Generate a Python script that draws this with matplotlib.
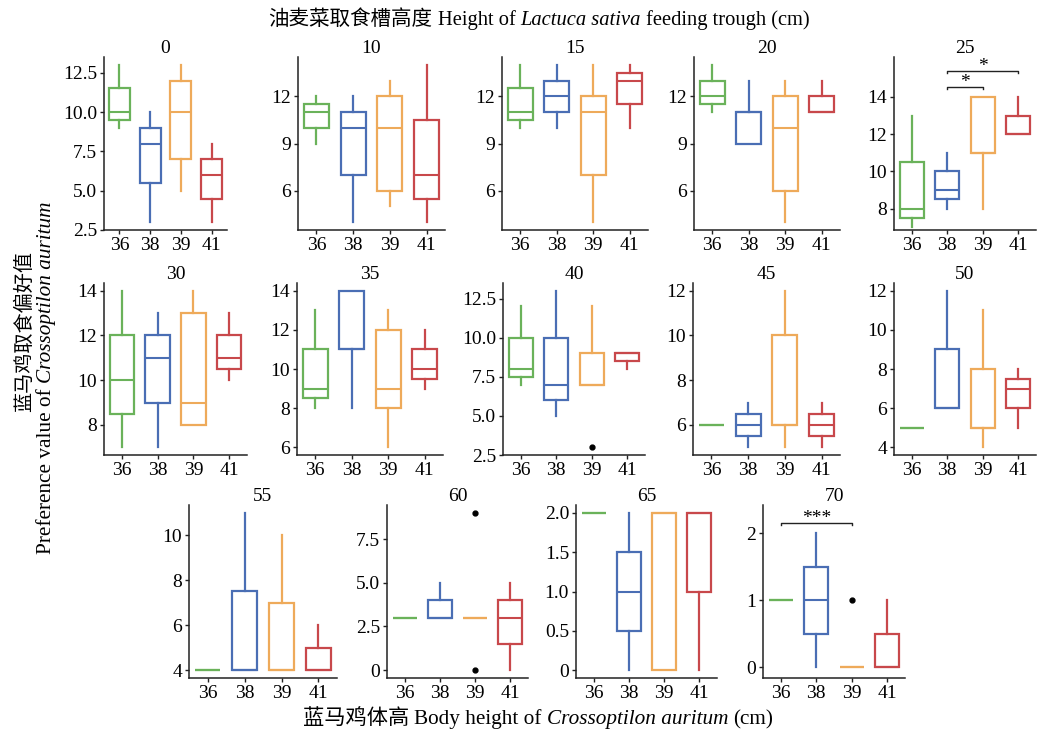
import matplotlib
matplotlib.use('Agg')
import matplotlib.pyplot as plt
from matplotlib.transforms import IdentityTransform

plt.rcParams['font.family'] = ['Liberation Serif', 'Noto Sans CJK SC']
plt.rcParams['font.size'] = 14
plt.rcParams['axes.unicode_minus'] = False

groups = ['36', '38', '39', '41']
colors = ['#6ab25a', '#4a6eb4', '#eeaa5a', '#c8484b']
panel_titles = ['0', '10', '15', '20', '25', '30', '35', '40', '45', '50',
                '55', '60', '65', '70']

whislo = [
    [9, 3, 5, 3], [9, 4, 5, 4], [10, 10, 4, 10], [11, 9, 4, 11], [7, 8, 8, 12],
    [7, 7, 8, 10], [8, 8, 6, 9], [7, 5, 7, 8], [6, 5, 5, 5], [5, 6, 4, 5],
    [4, 4, 4, 4], [3, 3, 3, 0], [2, 0, 0, 0], [1, 0, 0, 0],
]
q1 = [
    [9.5, 5.5, 7, 4.5], [10, 7, 6, 5.5], [10.5, 11, 7, 11.5], [11.5, 9, 6, 11], [7.5, 8.5, 11, 12],
    [8.5, 9, 8, 10.5], [8.5, 11, 8, 9.5], [7.5, 6, 7, 8.5], [6, 5.5, 6, 5.5], [5, 6, 5, 6],
    [4, 4, 4, 4], [3, 3, 3, 1.5], [2, 0.5, 0, 1], [1, 0.5, 0, 0],
]
med = [
    [10, 8, 10, 6], [11, 10, 10, 7], [11, 12, 11, 13], [12, 11, 10, 11], [8, 9, 11, 12],
    [10, 11, 9, 11], [9, 11, 9, 10], [8, 7, 7, 9], [6, 6, 6, 6], [5, 6, 5, 7],
    [4, 4, 4, 4], [3, 3, 3, 3], [2, 1, 2, 2], [1, 1, 0, 0],
]
q3 = [
    [11.5, 9, 12, 7], [11.5, 11, 12, 10.5], [12.5, 13, 12, 13.5], [13, 11, 12, 12], [10.5, 10, 14, 13],
    [12, 12, 13, 12], [11, 14, 12, 11], [10, 10, 9, 9], [6, 6.5, 10, 6.5], [5, 9, 8, 7.5],
    [4, 7.5, 7, 5], [3, 4, 3, 4], [2, 1.5, 2, 2], [1, 1.5, 0, 0.5],
]
whishi = [
    [13, 10, 13, 8], [12, 12, 13, 14], [14, 14, 14, 14], [14, 13, 13, 13], [13, 11, 14, 14],
    [14, 13, 14, 13], [13, 14, 13, 12], [12, 13, 12, 9], [6, 7, 12, 7], [5, 12, 11, 8],
    [4, 11, 10, 6], [3, 5, 3, 5], [2, 2, 2, 2], [1, 2, 0, 1],
]
fliers = [[[] for _ in groups] for _ in panel_titles]
fliers[7][2] = [3]
fliers[11][2] = [0, 9]
fliers[13][2] = [1]

yticks = [
    [2.5, 5, 7.5, 10, 12.5], [6, 9, 12], [6, 9, 12], [6, 9, 12], [8, 10, 12, 14],
    [8, 10, 12, 14], [6, 8, 10, 12, 14], [2.5, 5, 7.5, 10, 12.5], [6, 8, 10, 12], [4, 6, 8, 10, 12],
    [4, 6, 8, 10], [0, 2.5, 5, 7.5], [0, 0.5, 1, 1.5, 2], [0, 1, 2],
]
ytick_labels = [
    ['2.5', '5.0', '7.5', '10.0', '12.5'], ['6', '9', '12'], ['6', '9', '12'], ['6', '9', '12'],
    ['8', '10', '12', '14'], ['8', '10', '12', '14'], ['6', '8', '10', '12', '14'],
    ['2.5', '5.0', '7.5', '10.0', '12.5'], ['6', '8', '10', '12'], ['4', '6', '8', '10', '12'],
    ['4', '6', '8', '10'], ['0', '2.5', '5.0', '7.5'], ['0', '0.5', '1.0', '1.5', '2.0'], ['0', '1', '2'],
]
ylims = {4: (6.85, 16.15), 13: (-0.16, 2.42)}

# significance brackets: (panel, group_a, group_b, level, label)
sig_panel = [4, 4, 13]
sig_a = [1, 1, 0]
sig_b = [2, 3, 2]
sig_level = [14.55, 15.4, 2.15]
sig_label = ['*', '*', '***']

W, H = 1040, 731
fig = plt.figure(figsize=(W / 100, H / 100), dpi=100)

# axes frames in pixels (left, right, top, bottom)
frames = [
    (104, 227, 57, 230), (298, 445, 57, 230), (502, 648, 57, 230), (694, 840, 57, 230), (894, 1036, 57, 230),
    (104, 247, 283, 455), (297, 443, 283, 455), (503, 645, 283, 455), (693, 840, 283, 455), (894, 1036, 283, 455),
    (189, 337, 505, 678), (387, 528, 505, 678), (576, 717, 505, 678), (763, 905, 505, 678),
]

for k, title in enumerate(panel_titles):
    l, r, t, b = frames[k]
    ax = fig.add_axes([l / W, (H - b) / H, (r - l) / W, (b - t) / H])
    stats = []
    for g in range(len(groups)):
        stats.append(dict(med=med[k][g], q1=q1[k][g], q3=q3[k][g],
                          whislo=whislo[k][g], whishi=whishi[k][g],
                          fliers=fliers[k][g], label=groups[g]))
    bp = ax.bxp(stats, positions=range(len(groups)), widths=0.68, showcaps=False,
                patch_artist=True,
                flierprops=dict(marker='o', markersize=3.5, markerfacecolor='black',
                                markeredgecolor='black', linestyle='none'))
    for g, c in enumerate(colors):
        bp['boxes'][g].set_facecolor('white')
        bp['boxes'][g].set_edgecolor(c)
        bp['boxes'][g].set_linewidth(1.6)
        bp['medians'][g].set_color(c)
        bp['medians'][g].set_linewidth(1.5)
        for w in bp['whiskers'][2 * g:2 * g + 2]:
            w.set_color(c)
            w.set_linewidth(1.6)
    ax.set_xlim(-0.5, len(groups) - 0.5)
    ax.set_xticks(range(len(groups)))
    ax.set_xticklabels(groups)
    if k in ylims:
        ax.set_ylim(*ylims[k])
    else:
        ax.margins(y=0.05)
    ax.set_yticks(yticks[k])
    ax.set_yticklabels(ytick_labels[k])
    for s in ['top', 'right']:
        ax.spines[s].set_visible(False)
    for s in ['left', 'bottom']:
        ax.spines[s].set_color('#222222')
        ax.spines[s].set_linewidth(1.1)
    ax.tick_params(axis='both', length=3, width=1.0, pad=2, color='#222222', labelsize=14)
    ax.set_title(title, fontsize=14, pad=3)

    for p, a, bb, lev, lab in zip(sig_panel, sig_a, sig_b, sig_level, sig_label):
        if p != k:
            continue
        y0, y1 = ax.get_ylim()
        drop = 0.012 * (y1 - y0)
        ax.plot([a, a, bb, bb], [lev - drop, lev, lev, lev - drop], color='#222222', lw=1.0)
        ax.annotate(lab, xy=((a + bb) / 2, lev), xytext=(0, 0), textcoords='offset points',
                    ha='center', va='baseline', fontsize=14)


def rich(pieces, cx, cy, rotation=0, size=15.3, gap=5):
    rend = fig.canvas.get_renderer()
    arts, lens = [], []
    for s, st in pieces:
        t = fig.text(0, 0, s, fontsize=size, fontstyle=st, rotation=rotation,
                     rotation_mode='anchor', ha='left', va='baseline',
                     transform=IdentityTransform())
        bb = t.get_window_extent(rend)
        lens.append(bb.height if rotation == 90 else bb.width)
        arts.append(t)
    total = sum(lens) + gap * (len(pieces) - 1)
    pos = (cy if rotation == 90 else cx) - total / 2
    for t, L in zip(arts, lens):
        if rotation == 90:
            t.set_position((cx, pos))
        else:
            t.set_position((pos, cy))
        pos += L + gap


rich([('油麦菜取食槽高度', 'normal'), ('Height of', 'normal'), ('Lactuca sativa', 'italic'),
      ('feeding trough (cm)', 'normal')], 539, H - 25, size=14.8)
rich([('蓝马鸡体高', 'normal'), ('Body height of', 'normal'), ('Crossoptilon auritum', 'italic'),
      ('(cm)', 'normal')], 538, H - 724)
rich([('蓝马鸡取食偏好值', 'normal')], 30, H - 332, rotation=90, size=14.5)
rich([('Preference value of', 'normal'), ('Crossoptilon auritum', 'italic')], 51, H - 378, rotation=90)

fig.savefig('out.png', dpi=100)
